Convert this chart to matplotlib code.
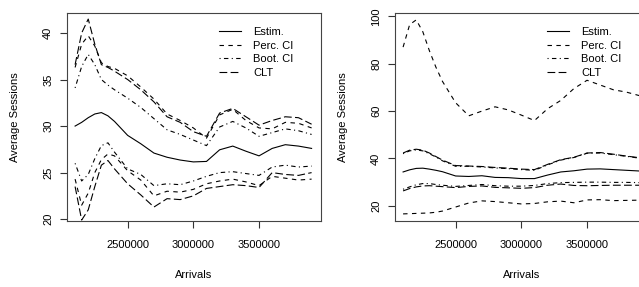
import numpy as np
import matplotlib.pyplot as plt

plt.rcParams['font.family'] = ['Liberation Sans', 'DejaVu Sans']
plt.rcParams['font.size'] = 8

arrivals = [2100000, 2150000, 2200000, 2250000, 2300000, 2350000, 2400000,
            2500000, 2600000, 2700000, 2800000, 2900000, 3000000, 3100000,
            3200000, 3300000, 3400000, 3500000, 3600000, 3700000, 3800000,
            3900000]

# left panel
estim_l = [30.0, 30.4, 30.9, 31.3, 31.45, 31.1, 30.5, 29.0, 28.1, 27.1, 26.65,
           26.35, 26.15, 26.2, 27.45, 27.85, 27.3, 26.8, 27.6, 28.0, 27.85, 27.6]
perc_up_l = [36.3, 38.8, 39.7, 38.6, 36.8, 36.4, 36.2, 35.4, 34.2, 32.9, 31.3,
             30.6, 29.8, 28.7, 31.2, 31.8, 30.6, 29.8, 29.7, 30.4, 30.3, 29.8]
perc_lo_l = [24.3, 21.5, 22.8, 25.0, 26.4, 27.0, 26.8, 25.2, 24.2, 22.5, 23.0,
             22.9, 23.2, 23.8, 24.1, 24.3, 24.0, 23.6, 24.6, 24.4, 24.2, 24.3]
boot_up_l = [34.1, 36.4, 37.7, 36.6, 35.0, 34.4, 33.9, 33.0, 32.0, 30.8, 29.6,
             29.1, 28.5, 27.9, 29.9, 30.5, 29.8, 28.9, 29.3, 29.7, 29.5, 29.1]
boot_lo_l = [26.0, 24.1, 24.8, 26.5, 27.9, 28.2, 27.2, 25.4, 24.8, 23.6, 23.8,
             23.7, 24.1, 24.6, 25.0, 25.1, 24.9, 24.7, 25.6, 25.8, 25.6, 25.7]
clt_up_l = [36.6, 40.0, 41.5, 38.8, 36.6, 36.3, 35.9, 35.0, 33.9, 32.6, 31.0,
            30.4, 29.4, 28.9, 31.4, 31.9, 31.0, 30.1, 30.6, 31.0, 30.9, 30.2]
clt_lo_l = [23.5, 19.9, 21.0, 23.5, 25.8, 26.3, 25.4, 23.8, 22.6, 21.3, 22.2,
            22.1, 22.5, 23.3, 23.5, 23.7, 23.6, 23.4, 25.0, 24.8, 24.7, 25.0]

# right panel
estim_r = [34.3, 35.2, 35.8, 35.9, 35.5, 35.0, 34.4, 32.6, 32.4, 32.7, 32.0,
           31.9, 31.5, 31.5, 33.0, 34.3, 34.8, 35.5, 35.6, 35.3, 35.0, 34.7]
perc_up_r = [87.0, 96.5, 98.5, 93.5, 85.5, 78.5, 72.5, 63.5, 58.0, 60.0, 61.8,
             60.5, 58.3, 56.0, 61.0, 64.5, 69.5, 73.0, 71.0, 69.0, 68.0, 66.5]
perc_lo_r = [16.6, 16.7, 16.8, 16.9, 17.0, 17.3, 17.8, 19.5, 21.2, 22.1, 21.8,
             21.3, 20.8, 21.0, 21.7, 22.0, 21.3, 22.5, 22.6, 22.2, 22.3, 22.4]
boot_up_r = [42.0, 43.2, 43.6, 43.2, 42.0, 40.6, 39.0, 36.7, 36.7, 36.4, 36.0,
             35.7, 35.3, 35.0, 37.3, 39.3, 40.4, 42.2, 42.3, 41.6, 40.9, 40.1]
boot_lo_r = [27.0, 28.0, 28.9, 29.4, 29.4, 29.0, 28.7, 28.2, 28.6, 29.0, 28.5,
             28.3, 28.3, 28.6, 29.4, 29.8, 29.9, 30.0, 30.0, 29.9, 29.9, 29.8]
clt_up_r = [42.3, 43.5, 43.9, 43.5, 42.3, 40.8, 39.3, 37.0, 36.8, 36.6, 36.2,
            35.9, 35.5, 35.3, 37.5, 39.5, 40.5, 42.3, 42.5, 41.8, 41.0, 40.3]
clt_lo_r = [26.3, 27.3, 28.0, 28.4, 28.5, 28.3, 28.1, 27.7, 28.2, 28.4, 27.8,
            27.6, 27.4, 27.7, 28.7, 29.2, 28.6, 28.5, 28.6, 28.7, 28.7, 28.7]

labels = ['Estim.', 'Perc. CI', 'Boot. CI', 'CLT']
lw = 0.8
styles = [None, (4, 4), (1, 3, 4, 3), (7, 3)]

fig = plt.figure(figsize=(6.39, 2.87), dpi=100)
W, H = 639, 287


def panel(x0, series, ylim, yticks, leg_x):
    ax = fig.add_axes([x0 / W, 66 / H, 254 / W, 208 / H])
    for i, (name, up, lo) in enumerate(series):
        kw = dict(color='black', lw=lw)
        if styles[i] is not None:
            kw['dashes'] = styles[i]
        ax.plot(arrivals, up, label=name, **kw)
        if lo is not None:
            ax.plot(arrivals, lo, **kw)
    ax.set_xlim(2038400, 3971600)
    ax.set_ylim(*ylim)
    ax.set_xticks([2500000, 3000000, 3500000])
    ax.set_xticklabels(['2500000', '3000000', '3500000'])
    ax.set_yticks(yticks)
    ax.set_yticklabels([str(v) for v in yticks], rotation=90, va='center')
    ax.tick_params(direction='out', length=5, width=0.8, color='#333333')
    ax.tick_params(axis='x', pad=9)
    ax.tick_params(axis='y', pad=5)
    for s in ax.spines.values():
        s.set_linewidth(0.8)
        s.set_color('#444444')
    ax.set_xlabel('Arrivals')
    ax.set_ylabel('Average Sessions')
    ax.xaxis.set_label_coords(0.5, -0.235)
    ax.yaxis.set_label_coords(-0.185, 0.5)
    ax.legend(loc='upper left', bbox_to_anchor=(leg_x / W, 1 - 27 / H),
              bbox_transform=fig.transFigure, frameon=False,
              handlelength=2.0, handletextpad=1.1, labelspacing=0.33,
              borderpad=0, borderaxespad=0)
    return ax


panel(67, [(labels[0], estim_l, None),
           (labels[1], perc_up_l, perc_lo_l),
           (labels[2], boot_up_l, boot_lo_l),
           (labels[3], clt_up_l, clt_lo_l)],
      (19.8, 42.15), [20, 25, 30, 35, 40], 219)

panel(395, [(labels[0], estim_r, None),
            (labels[1], perc_up_r, perc_lo_r),
            (labels[2], boot_up_r, boot_lo_r),
            (labels[3], clt_up_r, clt_lo_r)],
      (13.6, 101.4), [20, 40, 60, 80, 100], 547)

fig.savefig('out.png', dpi=100)
